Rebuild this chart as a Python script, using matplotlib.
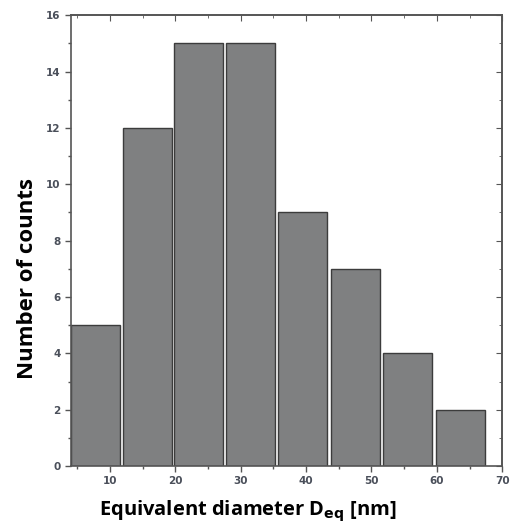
import numpy as np
import matplotlib
matplotlib.use("Agg")
import matplotlib.pyplot as plt
from matplotlib.ticker import MultipleLocator

# histogram data
bin_centers = [7.8, 15.7, 23.6, 31.5, 39.5, 47.5, 55.5, 63.6]
counts = [5, 12, 15, 15, 9, 7, 4, 2]
bar_width = 7.5

fig = plt.figure(figsize=(5.13, 5.26), dpi=100)
ax = fig.add_axes([0.138, 0.114, 0.841, 0.857])

ax.bar(bin_centers, counts, width=bar_width, color="#7f8081",
       edgecolor="#3c3c3c", linewidth=1.0)

ax.set_xlim(4, 70)
ax.set_ylim(0, 16)
ax.xaxis.set_major_locator(MultipleLocator(10))
ax.xaxis.set_minor_locator(MultipleLocator(5))
ax.yaxis.set_major_locator(MultipleLocator(2))
ax.yaxis.set_minor_locator(MultipleLocator(1))

for s in ax.spines.values():
    s.set_color("#555555")
    s.set_linewidth(1.2)

ax.tick_params(which="both", bottom=True, left=True, top=False, right=False,
               direction="out", color="#555555", labelsize=7.5,
               labelcolor="#4a4f5a", width=1)
ax.tick_params(which="major", length=4)
ax.tick_params(which="minor", length=2.5)
for lab in ax.get_xticklabels() + ax.get_yticklabels():
    lab.set_fontweight("bold")

# top and right ticks point inward
ax2 = ax.secondary_xaxis("top")
ax2.xaxis.set_major_locator(MultipleLocator(10))
ax2.xaxis.set_minor_locator(MultipleLocator(5))
ax2.tick_params(which="both", direction="in", color="#555555", labeltop=False)
ax2.tick_params(which="major", length=4)
ax2.tick_params(which="minor", length=2.5)
ax3 = ax.secondary_yaxis("right")
ax3.yaxis.set_major_locator(MultipleLocator(2))
ax3.yaxis.set_minor_locator(MultipleLocator(1))
ax3.tick_params(which="both", direction="in", color="#555555", labelright=False)
ax3.tick_params(which="major", length=4)
ax3.tick_params(which="minor", length=2.5)
for a in (ax2, ax3):
    for s in a.spines.values():
        s.set_color("#555555")
        s.set_linewidth(1.2)

ax.set_ylabel("Number of counts", fontsize=16, fontweight="bold",
              family="Open Sans")
ax.yaxis.set_label_coords(-0.075, 0.415)
ax.set_xlabel(r"Equivalent diameter D$_{\mathbf{eq}}$ [nm]", fontsize=14.5,
              fontweight="bold", family="Open Sans")
ax.xaxis.set_label_coords(0.41, -0.073)

fig.savefig("out.png", dpi=100)
